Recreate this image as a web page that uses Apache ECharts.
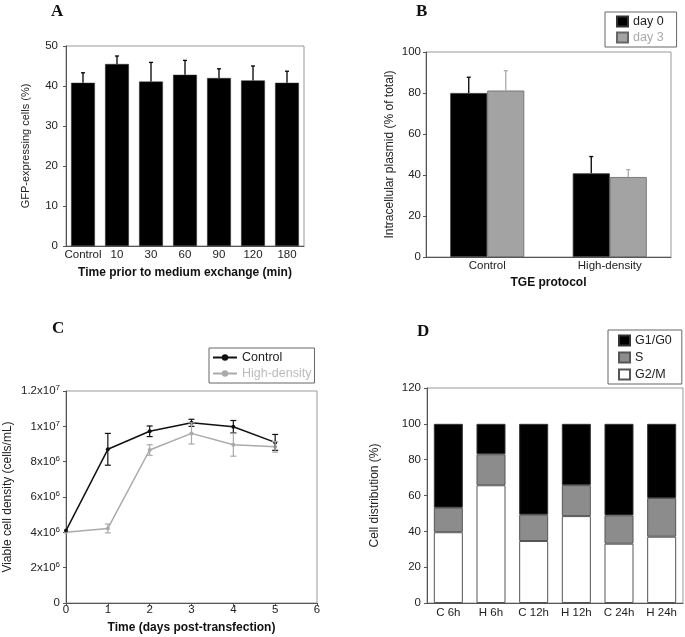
<!DOCTYPE html>
<html>
<head>
<meta charset="utf-8">
<script src="https://cdn.jsdelivr.net/npm/echarts@6/dist/echarts.min.js"></script>
<style>
html,body{margin:0;padding:0;background:#fff;}
#main{width:685px;height:637px;}
</style>
</head>
<body>
<div id="main"></div>
<script>
// ---- Panel A ----
const aCategories = ['Control', '10', '30', '60', '90', '120', '180'];
const aValues = [40.8, 45.5, 41.1, 42.8, 42.0, 41.4, 40.8];
const aErrors = [2.5, 2.0, 4.8, 3.6, 2.3, 3.6, 2.9];

// ---- Panel B ----
const bCategories = ['Control', 'High-density'];
const bDay0 = [80.0, 40.8];
const bDay0Err = [7.7, 8.2];
const bDay3 = [81.2, 39.0];
const bDay3Err = [9.7, 3.6];

// ---- Panel C ----
const cDays = [0, 1, 2, 3, 4, 5];
const cControl = [4.1e6, 8.7e6, 9.72e6, 10.2e6, 9.98e6, 9.09e6];
const cControlErr = [0, 0.9e6, 0.3e6, 0.2e6, 0.35e6, 0.45e6];
const cHigh = [4.0e6, 4.22e6, 8.66e6, 9.6e6, 8.96e6, 8.84e6];
const cHighErr = [0, 0.25e6, 0.3e6, 0.6e6, 0.65e6, 0.3e6];
const cYTickLabels = ['0', '2x10{s|6}', '4x10{s|6}', '6x10{s|6}', '8x10{s|6}', '1x10{s|7}', '1.2x10{s|7}'];

// ---- Panel D ----
const dCategories = ['C 6h', 'H 6h', 'C 12h', 'H 12h', 'C 24h', 'H 24h'];
const dG2M = [39.5, 65.7, 34.6, 48.5, 33.1, 37.0];
const dS = [13.7, 17.3, 14.7, 17.3, 15.8, 21.6];
const dG1 = [46.8, 17.0, 50.7, 34.2, 51.1, 41.4];

const FONT = 'Liberation Sans';
const axisLineStyle = { color: '#555', width: 1 };
const tickStyle = { color: '#555', width: 1 };

function errSeries(name, xIdx, yIdx, xs, vals, errs, opts) {
  const data = xs.map((x, i) => [x, vals[i] - (opts.both ? errs[i] : 0), vals[i] + errs[i], vals[i]]);
  return {
    type: 'custom', name: name, xAxisIndex: xIdx, yAxisIndex: yIdx, z: 5,
    silent: true,
    data: data,
    renderItem: function (params, api) {
      const x = api.value(0);
      const lo = api.coord([x, api.value(1)]);
      const hi = api.coord([x, api.value(2)]);
      const mid = api.coord([x, api.value(3)]);
      const cx = mid[0] + (opts.offset || 0);
      const c = opts.cap;
      const style = { stroke: opts.color, lineWidth: opts.lw || 1.2, fill: null };
      const children = [];
      const top = hi[1], bottom = opts.both ? lo[1] : mid[1];
      if (Math.abs(bottom - top) < 0.5) return { type: 'group', children: [] };
      children.push({ type: 'line', shape: { x1: cx, y1: top, x2: cx, y2: bottom }, style: style });
      children.push({ type: 'line', shape: { x1: cx - c, y1: top, x2: cx + c, y2: top }, style: style });
      if (opts.both) children.push({ type: 'line', shape: { x1: cx - c, y1: bottom, x2: cx + c, y2: bottom }, style: style });
      return { type: 'group', children: children };
    }
  };
}

const chart = echarts.init(document.getElementById('main'), null, { renderer: 'canvas' });

const gridBase = { show: true, borderColor: '#999', borderWidth: 1, backgroundColor: 'transparent', containLabel: false };

const option = {
  animation: false,
  textStyle: { fontFamily: FONT },
  graphic: [
    { type: 'text', left: 51, top: 3, style: { text: 'A', font: 'bold 17px "Liberation Serif"', fill: '#111' } },
    { type: 'text', left: 416, top: 3, style: { text: 'B', font: 'bold 17px "Liberation Serif"', fill: '#111' } },
    { type: 'text', left: 52, top: 320, style: { text: 'C', font: 'bold 17px "Liberation Serif"', fill: '#111' } },
    { type: 'text', left: 417, top: 323, style: { text: 'D', font: 'bold 17px "Liberation Serif"', fill: '#111' } }
  ],
  legend: [
    {
      data: [{ name: 'day 0', textStyle: { color: '#222' } }, { name: 'day 3', textStyle: { color: '#aaa' } }],
      orient: 'vertical', left: 605, top: 12, padding: [3, 13, 3, 11], itemGap: 3, icon: 'rect',
      itemWidth: 11, itemHeight: 10, borderColor: '#666', borderWidth: 1,
      textStyle: { fontFamily: FONT, fontSize: 12.5 }
    },
    {
      data: [{ name: 'Control', textStyle: { color: '#222' } }, { name: 'High-density', textStyle: { color: '#bbb' } }],
      orient: 'vertical', left: 209, top: 348, padding: [3, 3, 3, 3], itemGap: 3,
      itemWidth: 24, itemHeight: 8, borderColor: '#666', borderWidth: 1,
      textStyle: { fontFamily: FONT, fontSize: 12.5 }
    },
    {
      data: ['G1/G0', 'S', 'G2/M'],
      orient: 'vertical', left: 608, top: 330, padding: [4, 10, 3, 10], itemGap: 4, icon: 'rect',
      itemWidth: 11, itemHeight: 10, borderColor: '#666', borderWidth: 1,
      textStyle: { fontFamily: FONT, fontSize: 12.5, color: '#222' }
    }
  ],
  grid: [
    Object.assign({ left: 66, top: 46, width: 238, height: 200 }, gridBase),
    Object.assign({ left: 426, top: 52, width: 245, height: 205 }, gridBase),
    Object.assign({ left: 66, top: 391, width: 251, height: 212 }, gridBase),
    Object.assign({ left: 427, top: 388, width: 256, height: 215 }, gridBase)
  ],
  xAxis: [
    {
      gridIndex: 0, type: 'category', data: aCategories,
      name: 'Time prior to medium exchange (min)', nameLocation: 'middle', nameGap: 21,
      nameTextStyle: { fontFamily: FONT, fontSize: 12, fontWeight: 'bold', color: '#111' },
      axisLine: { lineStyle: axisLineStyle }, axisTick: { length: 3, lineStyle: tickStyle },
      axisLabel: { fontSize: 11.5, color: '#222', margin: 3, interval: 0 }
    },
    {
      gridIndex: 1, type: 'category', data: bCategories,
      name: 'TGE protocol', nameLocation: 'middle', nameGap: 20,
      nameTextStyle: { fontFamily: FONT, fontSize: 12, fontWeight: 'bold', color: '#111' },
      axisLine: { lineStyle: axisLineStyle }, axisTick: { length: 3, lineStyle: tickStyle },
      axisLabel: { fontSize: 11.5, color: '#222', margin: 3 }
    },
    {
      gridIndex: 2, type: 'value', min: 0, max: 6, interval: 1,
      name: 'Time (days post-transfection)', nameLocation: 'middle', nameGap: 19,
      nameTextStyle: { fontFamily: FONT, fontSize: 12, fontWeight: 'bold', color: '#111' },
      axisLine: { lineStyle: axisLineStyle }, axisTick: { length: 3, lineStyle: tickStyle },
      axisLabel: { fontSize: 11.5, color: '#222', margin: 1 }, splitLine: { show: false }
    },
    {
      gridIndex: 3, type: 'category', data: dCategories,
      axisLine: { lineStyle: axisLineStyle }, axisTick: { length: 3, lineStyle: tickStyle },
      axisLabel: { fontSize: 11.5, color: '#222', margin: 4, interval: 0 }
    }
  ],
  yAxis: [
    {
      gridIndex: 0, type: 'value', min: 0, max: 50, interval: 10,
      name: 'GFP-expressing cells (%)', nameLocation: 'middle', nameGap: 35,
      nameTextStyle: { fontFamily: FONT, fontSize: 11, color: '#222' },
      axisLine: { show: true, lineStyle: axisLineStyle }, axisTick: { show: true, length: 3, lineStyle: tickStyle },
      axisLabel: { fontSize: 11.5, color: '#222', margin: 8 }, splitLine: { show: false }
    },
    {
      gridIndex: 1, type: 'value', min: 0, max: 100, interval: 20,
      name: 'Intracellular plasmid (% of total)', nameLocation: 'middle', nameGap: 30,
      nameTextStyle: { fontFamily: FONT, fontSize: 12, color: '#222' },
      axisLine: { show: true, lineStyle: axisLineStyle }, axisTick: { show: true, length: 3, lineStyle: tickStyle },
      axisLabel: { fontSize: 11.5, color: '#222', margin: 5 }, splitLine: { show: false }
    },
    {
      gridIndex: 2, type: 'value', min: 0, max: 1.2e7, interval: 2e6,
      name: 'Viable cell density (cells/mL)', nameLocation: 'middle', nameGap: 52,
      nameTextStyle: { fontFamily: FONT, fontSize: 12, color: '#222' },
      axisLine: { show: true, lineStyle: axisLineStyle }, axisTick: { show: true, length: 3, lineStyle: tickStyle },
      axisLabel: {
        fontSize: 11.5, color: '#222', margin: 6,
        formatter: function (v) { return cYTickLabels[Math.round(v / 2e6)]; },
        rich: { s: { fontSize: 8, verticalAlign: 'top', padding: [0, 0, 6, 0], color: '#222' } }
      },
      splitLine: { show: false }
    },
    {
      gridIndex: 3, type: 'value', min: 0, max: 120, interval: 20,
      name: 'Cell distribution (%)', nameLocation: 'middle', nameGap: 46,
      nameTextStyle: { fontFamily: FONT, fontSize: 12, color: '#222' },
      axisLine: { show: true, lineStyle: axisLineStyle }, axisTick: { show: true, length: 3, lineStyle: tickStyle },
      axisLabel: { fontSize: 11.5, color: '#222', margin: 6 }, splitLine: { show: false }
    }
  ],
  series: [
    // A
    {
      type: 'bar', name: 'GFP', xAxisIndex: 0, yAxisIndex: 0, data: aValues, barWidth: '70%',
      itemStyle: { color: '#000', borderColor: '#333', borderWidth: 0.5 }
    },
    errSeries('GFP err', 0, 0, aCategories.map((c, i) => i), aValues, aErrors, { cap: 2, color: '#000', lw: 1.3 }),
    // B
    {
      type: 'bar', name: 'day 0', xAxisIndex: 1, yAxisIndex: 1, data: bDay0, barWidth: 37, barGap: '0%',
      itemStyle: { color: '#000', borderColor: '#333', borderWidth: 0.8 }
    },
    {
      type: 'bar', name: 'day 3', xAxisIndex: 1, yAxisIndex: 1, data: bDay3, barWidth: 37, barGap: '0%',
      itemStyle: { color: '#a3a3a3', borderColor: '#666', borderWidth: 0.8 }
    },
    errSeries('day0 err', 1, 1, bCategories.map((c, i) => i), bDay0, bDay0Err, { cap: 2, color: '#000', offset: -18.5, lw: 1.3 }),
    errSeries('day3 err', 1, 1, bCategories.map((c, i) => i), bDay3, bDay3Err, { cap: 2, color: '#aaa', offset: 18.5, lw: 1.3 }),
    // C
    {
      type: 'line', name: 'Control', xAxisIndex: 2, yAxisIndex: 2, z: 4,
      data: cDays.map((d, i) => [d, cControl[i]]),
      symbol: 'circle', symbolSize: 4, lineStyle: { color: '#111', width: 1.5 }, itemStyle: { color: '#111' }
    },
    {
      type: 'line', name: 'High-density', xAxisIndex: 2, yAxisIndex: 2, z: 3,
      data: cDays.map((d, i) => [d, cHigh[i]]),
      symbol: 'circle', symbolSize: 4, lineStyle: { color: '#aaa', width: 1.5 }, itemStyle: { color: '#aaa' }
    },
    errSeries('Control err', 2, 2, cDays, cControl, cControlErr, { cap: 3, color: '#111', both: true, lw: 1.2 }),
    errSeries('High err', 2, 2, cDays, cHigh, cHighErr, { cap: 3, color: '#aaa', both: true, lw: 1.2 }),
    // D
    {
      type: 'bar', name: 'G2/M', xAxisIndex: 3, yAxisIndex: 3, stack: 'd', data: dG2M, barWidth: '68%',
      itemStyle: { color: '#fff', borderColor: '#555', borderWidth: 1 }
    },
    {
      type: 'bar', name: 'S', xAxisIndex: 3, yAxisIndex: 3, stack: 'd', data: dS, barWidth: '68%',
      itemStyle: { color: '#8c8c8c', borderColor: '#555', borderWidth: 1 }
    },
    {
      type: 'bar', name: 'G1/G0', xAxisIndex: 3, yAxisIndex: 3, stack: 'd', data: dG1, barWidth: '68%',
      itemStyle: { color: '#000', borderColor: '#333', borderWidth: 1 }
    }
  ]
};

chart.setOption(option);
</script>
</body>
</html>
